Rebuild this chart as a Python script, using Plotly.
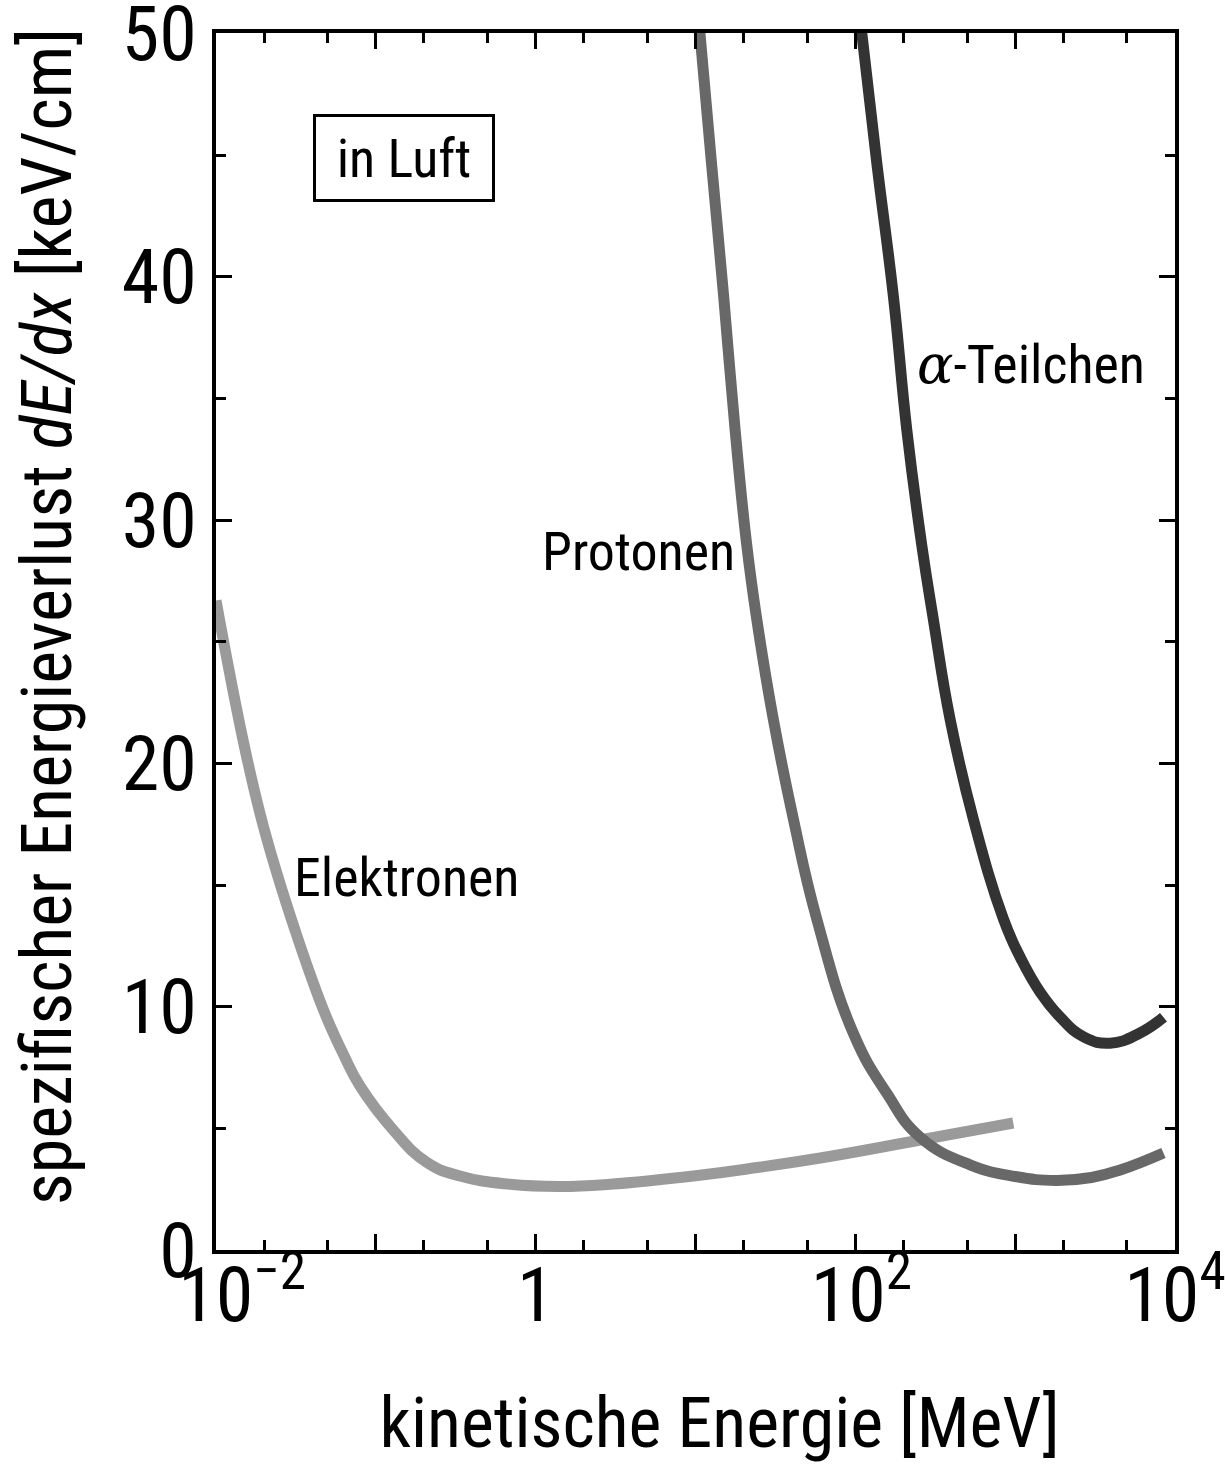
import plotly.graph_objects as go

FONT = "Liberation Sans Narrow, Roboto Condensed, DejaVu Sans Condensed, Arial Narrow, sans-serif"
NB = "\u00a0"
ZW = "\u200b"

# Data (kinetic energy in MeV, dE/dx in keV/cm)
e_energy = [0.01, 0.01483, 0.01884, 0.024, 0.0305, 0.0387, 0.0493, 0.0626, 0.0796, 0.1287, 0.2085,
            0.3365, 0.692, 1.42, 2.92, 10.0, 25.0, 60.3, 254.0, 973.0]
e_dedx   = [26.7, 20.9, 17.95, 15.5, 13.35, 11.36, 9.54, 8.05, 6.74, 4.93, 3.6,
            3.04, 2.7, 2.61, 2.7, 3.05, 3.4, 3.78, 4.52, 5.22]

p_energy = [10.6, 12.6, 15.0, 17.7, 20.9, 24.2, 30.7, 41.0, 57.4, 97.3, 157.0, 254.0, 522.0,
            1000.0, 1800.0, 3000.0, 4540.0, 8470.0]
p_dedx   = [50.2, 44.65, 39.2, 33.7, 29.0, 25.9, 21.8, 17.7, 13.6, 8.9, 6.45, 4.64, 3.5,
            3.02, 2.86, 2.98, 3.29, 3.99]

a_energy = [108.5, 136.4, 173.0, 210.0, 260.0, 308.0, 392.0, 548.0, 845.0, 1074.0, 1432.0, 1914.0,
            2700.0, 3927.0, 5957.0, 8470.0]
a_dedx   = [50.3, 44.65, 39.2, 33.7, 29.0, 25.9, 21.8, 17.7, 13.6, 12.04, 10.6, 9.57,
            8.75, 8.5, 8.9, 9.57]

x_major = [0.01, 0.1, 1, 10, 100, 1000, 10000]
x_major_text = [NB * 3 + "10<sup>−2</sup>", "", "1", "", "<sup>" + NB + "</sup>10<sup>2</sup>", "", "10<sup>4</sup>"]
x_minor = [m * 10.0 ** k for k in range(-2, 4) for m in (2, 5)]
y_major = [0, 10, 20, 30, 40, 50]
y_minor = [5, 15, 25, 35, 45]

x_title = "kinetische Energie [MeV]"
y_title = "spezifischer Energieverlust <i>dE/dx</i> [keV/cm]"

fig = go.Figure()
for xs, ys, col in ((e_energy, e_dedx, "#9a9a9a"), (p_energy, p_dedx, "#686868"), (a_energy, a_dedx, "#333333")):
    fig.add_trace(go.Scatter(x=xs, y=ys, mode="lines",
                             line=dict(color=col, width=11, shape="spline", smoothing=1.3)))

axis_common = dict(showline=True, linecolor="black", linewidth=4, mirror="allticks",
                   ticks="inside", ticklen=16, tickwidth=3, tickcolor="black",
                   showgrid=False, zeroline=False, ticklabeloverflow="allow", automargin=False,
                   tickfont=dict(family=FONT, size=76, color="black"))

fig.update_xaxes(type="log", range=[-2, 4], tickmode="array", tickvals=x_major, ticktext=x_major_text,
                 ticklabelstandoff=-24,
                 minor=dict(tickmode="array", tickvals=x_minor, ticks="inside", ticklen=10, tickwidth=3, tickcolor="black"),
                 title=dict(text=ZW + NB * 3 + x_title, font=dict(family=FONT, size=70, color="black"), standoff=60),
                 **axis_common)
fig.update_yaxes(range=[0, 50.02], tickmode="array", tickvals=y_major,
                 minor=dict(tickmode="array", tickvals=y_minor, ticks="inside", ticklen=10, tickwidth=3, tickcolor="black"),
                 **axis_common)

# y-axis title placed as an annotation for exact positioning
fig.add_annotation(xref="paper", yref="paper", x=0, xshift=-169, y=0.520, text=y_title, showarrow=False,
                   textangle=-90, xanchor="center", yanchor="middle", font=dict(family=FONT, size=70, color="black"))

ann_font = dict(family=FONT, size=54, color="black")
fig.add_annotation(x=-0.805, y=15.3, xref="x", yref="y", text="Elektronen", showarrow=False, font=ann_font)
fig.add_annotation(x=0.641, y=28.7, xref="x", yref="y", text="Protonen", showarrow=False, font=ann_font)
fig.add_annotation(x=3.10, y=36.4, xref="x", yref="y",
                   text="<span style=\"font-family:'DejaVu Serif'\"><i>α</i></span>-Teilchen",
                   showarrow=False, font=ann_font)
fig.add_annotation(x=-0.825, y=44.9, xref="x", yref="y", text="in Luft", showarrow=False, font=ann_font,
                   bordercolor="black", borderwidth=3, borderpad=0, width=176, height=82, bgcolor="white")

fig.update_layout(width=1225, height=1466, margin=dict(l=216, r=50, t=33, b=216, autoexpand=False),
                  plot_bgcolor="white", paper_bgcolor="white", showlegend=False,
                  font=dict(family=FONT, color="black"))

fig.write_html("out.html")
